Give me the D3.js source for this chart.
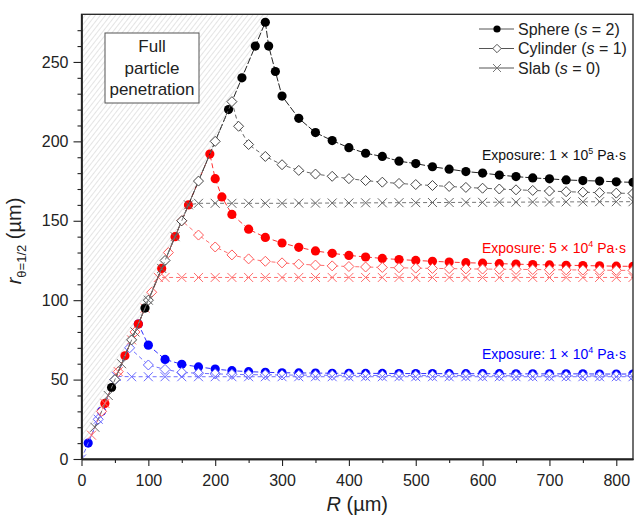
<!DOCTYPE html>
<html>
<head>
<meta charset="utf-8">
<title>r vs R</title>
<script src="https://cdn.jsdelivr.net/npm/d3@7"></script>
<style>
  body { margin: 0; background: #fff; }
  svg text { font-family: Arial, "Liberation Sans", sans-serif; fill: #222; }
  .tick text { font-size: 16px; }
</style>
</head>
<body>
<script>
// ---- data (R in um, r_theta=1/2 in um) ----
// exposure 1e5 Pa.s
var R_k_sph = [45, 95, 220, 240, 260, 275, 280, 290, 300, 325, 350, 375, 400, 425, 450, 475, 500, 525, 550, 575, 600, 625, 650, 675, 700, 725, 750, 775, 800, 825];
var r_k_sph = [45, 95, 220, 240, 260, 275, 260, 244, 228.5, 214.5, 205.5, 200.5, 196, 192.5, 190.5, 187.5, 186, 184, 182.5, 181, 180, 178.8, 177.8, 177, 176.4, 175.7, 175.3, 175, 174.5, 174.2];
var R_k_cyl = [50, 75, 100, 125, 150, 175, 200, 225, 235, 250, 275, 300, 325, 350, 375, 400, 425, 450, 475, 500, 525, 550, 575, 600, 625, 650, 675, 700, 725, 750, 775, 800, 825];
var r_k_cyl = [50, 75, 100, 125, 150, 175, 200, 225, 209.5, 198, 190.5, 185.3, 181.7, 179.4, 178, 176.5, 175.3, 174.3, 173.5, 172.8, 172.2, 171.6, 171, 170.5, 170, 169.5, 169.1, 168.7, 168.3, 168, 167.7, 167.4, 167.2];
var R_k_slab = [20, 40, 60, 80, 100, 120, 140, 160, 175, 200, 225, 250, 275, 300, 325, 350, 375, 400, 425, 450, 475, 500, 525, 550, 575, 600, 625, 650, 675, 700, 725, 750, 775, 800, 825];
var r_k_slab = [20, 40, 60, 80, 100, 120, 140, 160, 161, 161, 161, 161, 161, 161, 161.1, 161.1, 161.2, 161.2, 161.3, 161.3, 161.4, 161.4, 161.5, 161.5, 161.6, 161.6, 161.7, 161.7, 161.8, 161.8, 161.9, 161.9, 162, 162, 162];
// exposure 5e4 Pa.s
var R_r_sph = [35, 65, 85, 120, 140, 160, 192, 200, 210, 225, 250, 275, 300, 325, 350, 375, 400, 425, 450, 475, 500, 525, 550, 575, 600, 625, 650, 675, 700, 725, 750, 775, 800, 825];
var r_r_sph = [35, 65, 85, 120, 140, 160, 192, 176.5, 165, 154, 144.7, 139.5, 136, 133.3, 131, 129.5, 128.2, 127.2, 126.3, 125.6, 125, 124.5, 124, 123.6, 123.3, 123, 122.7, 122.4, 122.2, 122, 121.8, 121.6, 121.4, 121.3];
var R_r_cyl = [30, 55, 80, 105, 130, 150, 175, 200, 225, 250, 275, 300, 325, 350, 375, 400, 425, 450, 475, 500, 525, 550, 575, 600, 625, 650, 675, 700, 725, 750, 775, 800, 825];
var r_r_cyl = [30, 55, 80, 105, 130, 150, 141, 133.5, 128.5, 126, 124.5, 123.5, 122.7, 122.1, 121.6, 121.2, 120.9, 120.6, 120.4, 120.2, 120, 119.9, 119.7, 119.6, 119.5, 119.4, 119.3, 119.2, 119.1, 119, 118.9, 118.8, 118.7];
var R_r_slab = [15, 35, 55, 75, 95, 115, 125, 150, 175, 200, 225, 250, 275, 300, 325, 350, 375, 400, 425, 450, 475, 500, 525, 550, 575, 600, 625, 650, 675, 700, 725, 750, 775, 800, 825];
var r_r_slab = [15, 35, 55, 75, 95, 114.3, 114.3, 114.3, 114.3, 114.3, 114.3, 114.3, 114.3, 114.3, 114.3, 114.3, 114.3, 114.3, 114.3, 114.3, 114.3, 114.3, 114.3, 114.3, 114.3, 114.3, 114.3, 114.3, 114.3, 114.3, 114.3, 114.3, 114.3, 114.3, 114.3];
// exposure 1e4 Pa.s
var R_b_sph = [10, 30, 85, 100, 125, 150, 175, 200, 225, 250, 275, 300, 325, 350, 375, 400, 425, 450, 475, 500, 525, 550, 575, 600, 625, 650, 675, 700, 725, 750, 775, 800, 825];
var r_b_sph = [10, 30, 85, 71.7, 62.7, 59.6, 58, 56.6, 55.6, 55, 54.6, 54.3, 54.2, 54.1, 54, 54, 53.9, 53.9, 53.8, 53.8, 53.8, 53.7, 53.7, 53.7, 53.7, 53.6, 53.6, 53.6, 53.6, 53.6, 53.5, 53.5, 53.5];
var R_b_cyl = [25, 50, 72, 100, 125, 150, 175, 200, 225, 250, 275, 300, 325, 350, 375, 400, 425, 450, 475, 500, 525, 550, 575, 600, 625, 650, 675, 700, 725, 750, 775, 800, 825];
var r_b_cyl = [25, 50, 70, 59.2, 56.4, 54.5, 54, 53.6, 53.3, 53.1, 53, 52.9, 52.8, 52.8, 52.7, 52.7, 52.6, 52.6, 52.6, 52.5, 52.5, 52.5, 52.5, 52.4, 52.4, 52.4, 52.4, 52.4, 52.3, 52.3, 52.3, 52.3, 52.3];
var R_b_slab = [0, 25, 52, 75, 100, 125, 150, 175, 200, 225, 250, 275, 300, 325, 350, 375, 400, 425, 450, 475, 500, 525, 550, 575, 600, 625, 650, 675, 700, 725, 750, 775, 800, 825];
var r_b_slab = [0, 25, 52, 51.8, 51.8, 51.8, 51.8, 51.8, 51.8, 51.8, 51.8, 51.8, 51.8, 51.8, 51.8, 51.8, 51.8, 51.8, 51.8, 51.8, 51.8, 51.8, 51.8, 51.8, 51.8, 51.8, 51.8, 51.8, 51.8, 51.8, 51.8, 51.8, 51.8, 51.8];

var xTicks = [0, 100, 200, 300, 400, 500, 600, 700, 800];
var yTicks = [0, 50, 100, 150, 200, 250];
var legendNames = ["Sphere (", "Cylinder (", "Slab ("];
var legendS = ["2", "1", "0"];
var exposures = [["1", "5"], ["5", "4"], ["1", "4"]];

var width = 634, height = 518;
var svg = d3.select("body").append("svg").attr("width", width).attr("height", height);

var x = d3.scaleLinear().domain([0, 825]).range([81.5, 633]);
var y = d3.scaleLinear().domain([0, 280]).range([459, 14.3]);

// hatch for the full penetration region (above r = R)
var defs = svg.append("defs");
var pat = defs.append("pattern").attr("id", "hatch")
    .attr("patternUnits", "userSpaceOnUse").attr("width", 4).attr("height", 4)
    .attr("patternTransform", "rotate(38)");
pat.append("line").attr("x1", 0).attr("y1", 0).attr("x2", 0).attr("y2", 4)
    .attr("stroke", "#c4c4c4").attr("stroke-width", 0.9);
defs.append("clipPath").attr("id", "plotclip").append("rect")
    .attr("x", x(0)).attr("y", y(280)).attr("width", x(825) - x(0)).attr("height", y(0) - y(280));

svg.append("path")
    .attr("d", "M" + x(0) + "," + y(0) + "L" + x(0) + "," + y(280) + "L" + x(280) + "," + y(280) + "Z")
    .attr("fill", "url(#hatch)");

// text box
var bx = svg.append("g");
bx.append("rect").attr("x", 105).attr("y", 33).attr("width", 94).attr("height", 70)
    .attr("fill", "#fff").attr("stroke", "#555").attr("stroke-width", 1);
["Full", "particle", "penetration"].forEach(function (t, i) {
    bx.append("text").attr("x", 152).attr("y", 52 + i * 21.6).attr("text-anchor", "middle")
        .style("font-size", "17px").text(t);
});

// series
function diamond(s) { return "M0," + (-s) + "L" + s + ",0L0," + s + "L" + (-s) + ",0Z"; }
function cross(s) { return "M" + (-s) + "," + (-s) + "L" + s + "," + s + "M" + (-s) + "," + s + "L" + s + "," + (-s); }

// drawn low exposure first so the higher ones sit on top along r = R
var series = [
    { R: R_b_sph, r: r_b_sph, type: "sph", line: "#3030ff", col: "#0000ff", dash: "5,3" },
    { R: R_b_cyl, r: r_b_cyl, type: "cyl", line: "#7070ff", col: "#6464ff", dash: "4,3" },
    { R: R_b_slab, r: r_b_slab, type: "slab", line: "#7070ff", col: "#6a6aff", dash: "4,3" },
    { R: R_r_sph, r: r_r_sph, type: "sph", line: "#ff3030", col: "#ff0000", dash: "5,3" },
    { R: R_r_cyl, r: r_r_cyl, type: "cyl", line: "#ff7070", col: "#ff5a5a", dash: "4,3" },
    { R: R_r_slab, r: r_r_slab, type: "slab", line: "#ff7070", col: "#ff6a6a", dash: "4,3" },
    { R: R_k_sph, r: r_k_sph, type: "sph", line: "#222", col: "#000", dash: "7,2" },
    { R: R_k_cyl, r: r_k_cyl, type: "cyl", line: "#666", col: "#444", dash: "4,3" },
    { R: R_k_slab, r: r_k_slab, type: "slab", line: "#777", col: "#666", dash: "4,3" }
];

var plot = svg.append("g").attr("clip-path", "url(#plotclip)");
var line = d3.line().x(function (d) { return x(d[0]); }).y(function (d) { return y(d[1]); });

series.forEach(function (s) {
    var pts = d3.zip(s.R, s.r);
    var g = plot.append("g");
    g.append("path").datum(pts).attr("d", line).attr("fill", "none")
        .attr("stroke", s.line).attr("stroke-width", 1).attr("stroke-dasharray", s.dash);
    var m = g.selectAll(".m").data(pts).enter().append("g").attr("class", "m")
        .attr("transform", function (d) { return "translate(" + x(d[0]) + "," + y(d[1]) + ")"; });
    if (s.type == "sph") {
        m.append("circle").attr("r", 4.6).attr("fill", s.col);
    } else if (s.type == "cyl") {
        m.append("path").attr("d", diamond(5)).attr("fill", "#fff").attr("stroke", s.col).attr("stroke-width", 1);
    } else {
        m.append("path").attr("d", cross(4.5)).attr("fill", "none").attr("stroke", s.col).attr("stroke-width", 1);
    }
});

// axes
var xMinor = [50, 150, 250, 350, 450, 550, 650, 750];
var yMinor = [10, 20, 30, 40, 60, 70, 80, 90, 110, 120, 130, 140, 160, 170, 180, 190, 210, 220, 230, 240, 260, 270];

svg.append("g").attr("transform", "translate(0," + y(0) + ")")
    .call(d3.axisBottom(x).tickValues(xTicks).tickSize(7).tickPadding(9).tickSizeOuter(0));
svg.append("g").attr("transform", "translate(0," + y(0) + ")")
    .call(d3.axisBottom(x).tickValues(xMinor).tickSize(4).tickFormat("").tickSizeOuter(0));
svg.append("g").attr("transform", "translate(" + x(0) + ",0)")
    .call(d3.axisLeft(y).tickValues(yTicks).tickSize(8).tickPadding(5).tickSizeOuter(0));
svg.append("g").attr("transform", "translate(" + x(0) + ",0)")
    .call(d3.axisLeft(y).tickValues(yMinor).tickSize(4).tickFormat("").tickSizeOuter(0));
svg.selectAll(".domain").attr("stroke", "#222").attr("stroke-width", 1.3);
svg.selectAll(".tick line").attr("stroke", "#222").attr("stroke-width", 1.1);
svg.selectAll(".tick text").attr("fill", "#222");

svg.append("rect").attr("x", x(0)).attr("y", y(280)).attr("width", x(825) - x(0)).attr("height", y(0) - y(280))
    .attr("fill", "none").attr("stroke", "#222").attr("stroke-width", 1.3);

// axis titles
var xt = svg.append("text").attr("x", (x(0) + x(825)) / 2).attr("y", 511).attr("text-anchor", "middle")
    .style("font-size", "20px");
xt.append("tspan").style("font-style", "italic").text("R");
xt.append("tspan").text(" (\u00b5m)");

var yt = svg.append("text").attr("transform", "translate(21,241) rotate(-90)").attr("text-anchor", "middle")
    .style("font-size", "20px");
yt.append("tspan").style("font-style", "italic").text("r");
yt.append("tspan").attr("dy", 5).style("font-size", "13px").text("\u03b8=1/2");
yt.append("tspan").attr("dy", -5).text(" (\u00b5m)");

// exposure labels
var expCol = ["#111", "#ff0000", "#0000ff"];
var expPos = [188, 130, 63];
exposures.forEach(function (e, i) {
    var t = svg.append("text").attr("x", 482).attr("y", y(expPos[i])).style("font-size", "14px").attr("fill", expCol[i]);
    t.append("tspan").attr("fill", expCol[i]).text("Exposure: " + e[0] + " \u00d7 10");
    t.append("tspan").attr("fill", expCol[i]).attr("dy", -6).style("font-size", "9px").text(e[1]);
    t.append("tspan").attr("fill", expCol[i]).attr("dy", 6).text(" Pa\u00b7s");
});

// legend
var lg = svg.append("g");
legendNames.forEach(function (n, i) {
    var ly = 29 + i * 19.5;
    lg.append("line").attr("x1", 479).attr("x2", 514).attr("y1", ly).attr("y2", ly)
        .attr("stroke", "#555").attr("stroke-width", 1);
    var mk = lg.append("g").attr("transform", "translate(497," + ly + ")");
    if (i == 0) mk.append("circle").attr("r", 3.6).attr("fill", "#000");
    if (i == 1) mk.append("path").attr("d", diamond(4.2)).attr("fill", "#fff").attr("stroke", "#555");
    if (i == 2) mk.append("path").attr("d", cross(4)).attr("fill", "none").attr("stroke", "#777");
    var t = lg.append("text").attr("x", 518).attr("y", ly + 5.8).style("font-size", "16px");
    t.append("tspan").text(n);
    t.append("tspan").style("font-style", "italic").text("s");
    t.append("tspan").text(" = " + legendS[i] + ")");
});
</script>
</body>
</html>
